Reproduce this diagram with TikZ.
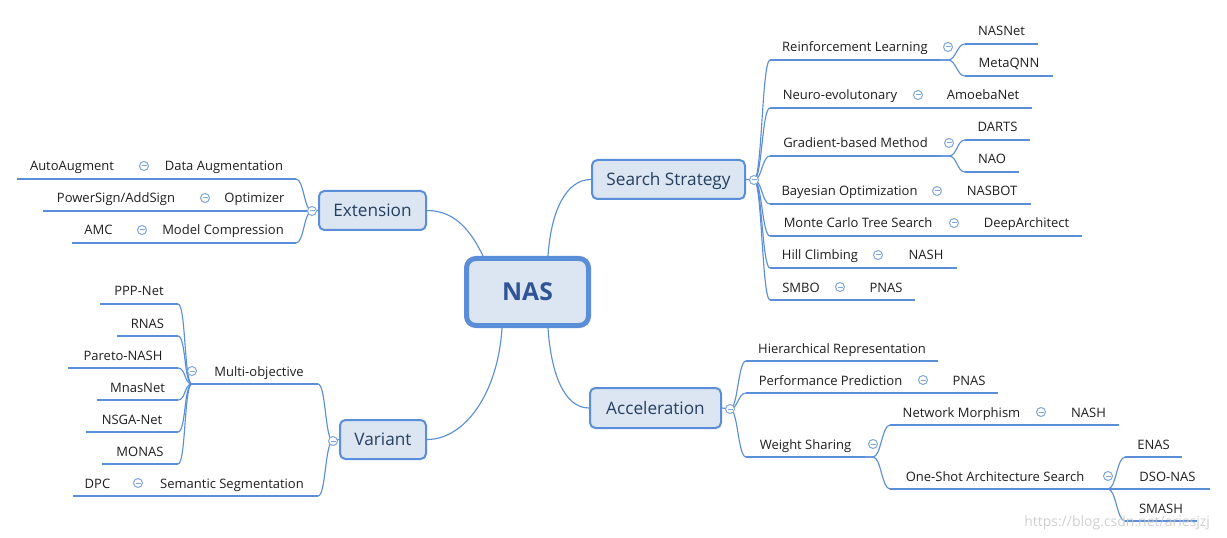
\documentclass[tikz,border=0pt]{standalone}
\usepackage{fontspec}
\setmainfont{Open Sans}
\usetikzlibrary{calc}
\definecolor{lb}{HTML}{5A8ED8}
\definecolor{bf}{HTML}{DCE6F2}
\definecolor{cc}{HTML}{7FA7DC}
\definecolor{tx}{HTML}{1E1E1E}
\definecolor{tone}{HTML}{243F60}
\definecolor{tzero}{HTML}{2F5597}
\newcommand\lnode[5]{%
  \node[lf, minimum width={(#2-#1)*0.75pt}] (#4) at (#1,#3) {#5};
  \draw[ul] (#4.south west) -- (#4.south east);}
\begin{document}
\begin{tikzpicture}[x=0.75pt,y=-0.75pt,
  lf/.style={font=\fontsize{9.75pt}{11pt}\selectfont, text=tx, anchor=south west,
    inner xsep=0pt, inner ysep=6pt, outer sep=0pt, text height=7pt, text depth=0pt, minimum height=0pt},
  ul/.style={draw=lb, line width=2.1pt},
  cn/.style={draw=lb, line width=0.85pt},
  lone/.style={draw=lb, line width=1.5pt, fill=bf, rounded corners=4pt, text=tone,
    font=\fontsize{12.9pt}{14pt}\selectfont, text height=9.2pt, text depth=0pt,
    inner sep=0pt, minimum height=29.25pt},
  root/.style={draw=lb, line width=3.75pt, fill=bf, rounded corners=7pt,
    minimum width=91.5pt, minimum height=50.25pt, inner sep=0pt,
    font=\fontsize{18.5pt}{20pt}\selectfont\bfseries, text=tzero, text height=13.2pt, text depth=0pt},
  coll/.style={circle, draw=cc, fill=white, line width=0.75pt, minimum size=6.75pt, inner sep=0pt,
    path picture={\draw[cc, line width=0.75pt] ($(path picture bounding box.center)+(-2.5,0)$) -- ($(path picture bounding box.center)+(2.5,0)$);}},
  sc/.style={out=0, in=180, distance=6pt},
  scl/.style={out=180, in=0, distance=6pt}
]
\useasboundingbox (0,0) rectangle (1227,538);

% root
\node[root] (nas) at (527.5,292) {NAS};

% level 1
\node[lone, minimum width=114.75pt] (ss) at (668.5,179.5) {Search Strategy};
\node[lone, minimum width=98.25pt, minimum height=30pt] (acc) at (655.5,408) {Acceleration};
\node[lone, minimum width=80.25pt] (ext) at (372.5,210.5) {Extension};
\node[lone, minimum width=64.5pt] (var) at (383,439.5) {Variant};
\coordinate (ssc) at (754,180);
\coordinate (accc) at (730,409);
\coordinate (extc) at (312,211);
\coordinate (varc) at (333,441);

% Search Strategy
\lnode{770}{940}{60}{rl}{Reinforcement Learning}
\lnode{965}{1038}{44}{nasnet}{NASNet}
\lnode{965}{1053}{76}{metaqnn}{MetaQNN}
\lnode{770}{910}{108}{neuro}{Neuro-evolutonary}
\lnode{934}{1032}{108}{amoeba}{AmoebaNet}
\lnode{770}{941}{156}{grad}{Gradient-based Method}
\lnode{965}{1030}{140}{darts}{DARTS}
\lnode{965}{1019}{172}{nao}{NAO}
\lnode{770}{929}{204}{bayes}{Bayesian Optimization}
\lnode{953}{1031}{204}{nasbot}{NASBOT}
\lnode{770}{946}{236}{mcts}{Monte Carlo Tree Search}
\lnode{971}{1082}{236}{deeparch}{DeepArchitect}
\lnode{770}{870}{268}{hill}{Hill Climbing}
\lnode{895}{957}{268}{nash}{NASH}
\lnode{770}{832}{300}{smbo}{SMBO}
\lnode{857}{915}{300}{pnas}{PNAS}

% Acceleration
\lnode{746}{938}{361}{hr}{Hierarchical Representation}
\lnode{746}{915}{393}{pp}{Performance Prediction}
\lnode{940}{998}{393}{pnasb}{PNAS}
\lnode{746}{865}{457}{ws}{Weight Sharing}
\lnode{890}{1033}{425}{nm}{Network Morphism}
\lnode{1058}{1119}{425}{nashb}{NASH}
\lnode{890}{1100}{489}{osas}{One-Shot Architecture Search}
\lnode{1125}{1182}{457}{enas}{ENAS}
\lnode{1125}{1210}{489}{dso}{DSO-NAS}
\lnode{1125}{1197}{521}{smash}{SMASH}

% Extension
\lnode{152}{296}{179}{da}{Data Augmentation}
\lnode{17}{127}{179}{aa}{AutoAugment}
\lnode{213}{296}{211}{opt}{Optimizer}
\lnode{43}{189}{211}{ps}{PowerSign/AddSign}
\lnode{150}{296}{243}{mc}{Model Compression}
\lnode{72}{125}{243}{amc}{AMC}

% Variant
\lnode{200}{318}{384}{mo}{Multi-objective}
\lnode{100}{178}{304}{ppp}{PPP-Net}
\lnode{117}{178}{336}{rnas}{RNAS}
\lnode{68}{178}{368}{pareto}{Pareto-NASH}
\lnode{97}{178}{400}{mnas}{MnasNet}
\lnode{86}{178}{432}{nsga}{NSGA-Net}
\lnode{102}{178}{464}{monas}{MONAS}
\lnode{146}{318}{496}{seg}{Semantic Segmentation}
\lnode{73}{122}{496}{dpc}{DPC}

% root connectors
\draw[cn] ($(nas.north)+(20.5,0)$) .. controls +(3,-45) and +(-25,0) .. (ss.west);
\draw[cn] ($(nas.north)+(-44.5,0)$) .. controls +(-12,-25) and +(28,0) .. (ext.east);
\draw[cn] ($(nas.south)+(-25.5,0)$) .. controls +(-4,65) and +(38,0) .. (var.east);
\draw[cn] ($(nas.south)+(20.5,0)$) .. controls +(3,45) and +(-25,0) .. (acc.west);

% spines
\draw[cn] (ss.east) -- (ssc);
\foreach \nm in {rl,neuro,grad,bayes,mcts,hill,smbo} \draw[cn] (ssc) to[sc] (\nm.south west);
\draw[cn] (acc.east) -- (accc);
\foreach \nm in {hr,pp,ws} \draw[cn] (accc) to[sc] (\nm.south west);
\draw[cn] (ext.west) -- (extc);
\foreach \nm in {da,opt,mc} \draw[cn] (extc) to[scl] (\nm.south east);
\draw[cn] (var.west) -- (varc);
\foreach \nm in {mo,seg} \draw[cn] (varc) to[scl] (\nm.south east);

% sub-branches
\foreach \nm in {nasnet,metaqnn} \draw[cn] (rl.south east) -- ++(8,0) to[sc] (\nm.south west);
\foreach \nm in {darts,nao} \draw[cn] (grad.south east) -- ++(8,0) to[sc] (\nm.south west);
\foreach \nm in {nm,osas} \draw[cn] (ws.south east) -- ++(8,0) to[sc] (\nm.south west);
\foreach \nm in {enas,dso,smash} \draw[cn] (osas.south east) -- ++(8,0) to[sc] (\nm.south west);
\foreach \nm in {ppp,rnas,pareto,mnas,nsga,monas} \draw[cn] (mo.south west) -- ++(-8,0) to[scl] (\nm.south east);

\draw[cn] (neuro.south east) -- (amoeba.south west);
\draw[cn] (bayes.south east) -- (nasbot.south west);
\draw[cn] (mcts.south east) -- (deeparch.south west);
\draw[cn] (hill.south east) -- (nash.south west);
\draw[cn] (smbo.south east) -- (pnas.south west);
\draw[cn] (pp.south east) -- (pnasb.south west);
\draw[cn] (nm.south east) -- (nashb.south west);
\draw[cn] (da.south west) -- (aa.south east);
\draw[cn] (opt.south west) -- (ps.south east);
\draw[cn] (mc.south west) -- (amc.south east);
\draw[cn] (seg.south west) -- (dpc.south east);

% collapse markers
\node[coll] (k-ss) at (ssc) {};
\node[coll] (k-acc) at (accc) {};
\node[coll] (k-ext) at (extc) {};
\node[coll] (k-var) at (varc) {};
\foreach \nm in {rl,neuro,grad,bayes,mcts,hill,smbo,pp,ws,nm,osas}
  \node[coll] (k-\nm) at ($(\nm.south east)+(8,-13)$) {};
\foreach \nm in {da,opt,mc,mo,seg}
  \node[coll] (k-\nm) at ($(\nm.south west)+(-8,-13)$) {};

% watermark
\node[font=\fontsize{10.5pt}{12pt}\selectfont, text=black!22, anchor=base west, inner sep=0pt, opacity=0.85] (wm) at (1024,526) {https://blog.csdn.net/ariesjzj};
\end{tikzpicture}
\end{document}
